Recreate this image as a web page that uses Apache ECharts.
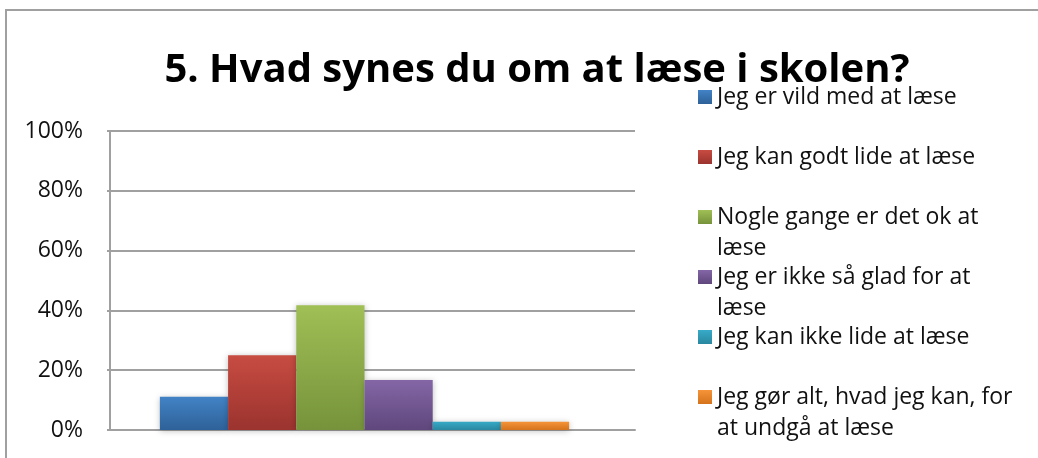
<!DOCTYPE html>
<html>
<head>
<meta charset="utf-8">
<script src="https://cdn.jsdelivr.net/npm/echarts@6/dist/echarts.min.js"></script>
<style>
  html, body { margin: 0; padding: 0; background: #fff; }
  #chart { width: 1038px; height: 458px; }
</style>
</head>
<body>
<div id="chart"></div>
<script>
const titleText = '5. Hvad synes du om at læse i skolen?'
const seriesNames = [
  'Jeg er vild med at læse',
  'Jeg kan godt lide at læse',
  'Nogle gange er det ok at læse',
  'Jeg er ikke så glad for at læse',
  'Jeg kan ikke lide at læse',
  'Jeg gør alt, hvad jeg kan, for at undgå at læse'
]
// legend text as wrapped in the original
const legendLabels = [
  'Jeg er vild med at læse',
  'Jeg kan godt lide at læse',
  'Nogle gange er det ok at\nlæse',
  'Jeg er ikke så glad for at\nlæse',
  'Jeg kan ikke lide at læse',
  'Jeg gør alt, hvad jeg kan, for\nat undgå at læse'
]
const categories = ['']
const values = [11.1, 25, 41.7, 16.7, 2.8, 2.8]  // procent
const yTicks = [0, 20, 40, 60, 80, 100]

const colors = [
  ['#4283c6', '#2e6198'],
  ['#c74c42', '#9b332e'],
  ['#a0bf55', '#76933b'],
  ['#8466a6', '#5f477c'],
  ['#37abc8', '#2a87a0'],
  ['#f6943a', '#d5731c']
]

const chart = echarts.init(document.getElementById('chart'), null, { renderer: 'canvas' })

const lineH = 31
const legendCenters = [97, 157, 217, 277, 337, 397]

// one legend per item so the spacing follows the original; an empty
// leading line keeps the icon level with the first text line
const legends = seriesNames.map((name, i) => {
  const lines = legendLabels[i].split('\n').length
  const label = lines > 1 ? '\n' + legendLabels[i] : legendLabels[i]
  const boxH = lineH * (lines > 1 ? 3 : 1)
  return {
    orient: 'vertical',
    left: 698,
    top: legendCenters[i] - boxH / 2,
    padding: 0,
    itemWidth: 14,
    itemHeight: 14,
    icon: 'rect',
    selectedMode: false,
    formatter: () => label,
    textStyle: {
      fontFamily: 'Open Sans',
      fontSize: 23,
      color: '#111',
      lineHeight: lineH
    },
    data: [name]
  }
})

const yMin = yTicks[0]
const yMax = yTicks[yTicks.length - 1]

const option = {
  backgroundColor: '#fff',
  animation: false,
  color: colors.map(c => c[0]),
  title: {
    text: titleText,
    left: 532,
    textAlign: 'center',
    top: 46,
    textStyle: {
      fontFamily: 'Open Sans',
      fontWeight: 'bold',
      fontSize: 40,
      color: '#000'
    }
  },
  graphic: [{
    type: 'rect',
    shape: { x: 6, y: 10, width: 1100, height: 500 },
    style: { fill: 'none', stroke: '#a0a0a0', lineWidth: 2 },
    silent: true
  }],
  legend: legends,
  // grid 0 carries the axes, grid 1 the bars (group sits a little left of centre)
  grid: [
    { left: 110, right: 403, top: 131, bottom: 28 },
    { left: 110, right: 419, top: 131, bottom: 28 }
  ],
  xAxis: [{
    type: 'category',
    gridIndex: 0,
    data: categories,
    axisLine: { lineStyle: { color: '#a0a0a0', width: 2 } },
    axisTick: { show: false },
    axisLabel: { show: false }
  }, {
    type: 'category',
    gridIndex: 1,
    data: categories,
    show: false
  }],
  yAxis: [{
    type: 'value',
    gridIndex: 0,
    min: yMin,
    max: yMax,
    interval: 20,
    axisLine: { show: true, lineStyle: { color: '#a0a0a0', width: 2 } },
    axisTick: { show: true, length: 3, lineStyle: { color: '#a0a0a0', width: 2 } },
    splitLine: { lineStyle: { color: '#a0a0a0', width: 2 } },
    axisLabel: {
      formatter: '{value}%',
      margin: 27,
      fontFamily: 'Open Sans',
      fontSize: 23,
      color: '#111'
    }
  }, {
    type: 'value',
    gridIndex: 1,
    min: yMin,
    max: yMax,
    interval: 20,
    show: false,
    splitLine: { show: false }
  }],
  series: seriesNames.map((name, i) => ({
    name: name,
    type: 'bar',
    xAxisIndex: 1,
    yAxisIndex: 1,
    barGap: '0%',
    barCategoryGap: '19.6%',
    data: [values[i]],
    itemStyle: {
      color: new echarts.graphic.LinearGradient(0, 0, 0, 1, [
        { offset: 0, color: colors[i][0] },
        { offset: 1, color: colors[i][1] }
      ]),
      shadowBlur: 6,
      shadowColor: 'rgba(0,0,0,0.25)',
      shadowOffsetY: 1
    }
  }))
}

chart.setOption(option)
</script>
</body>
</html>
